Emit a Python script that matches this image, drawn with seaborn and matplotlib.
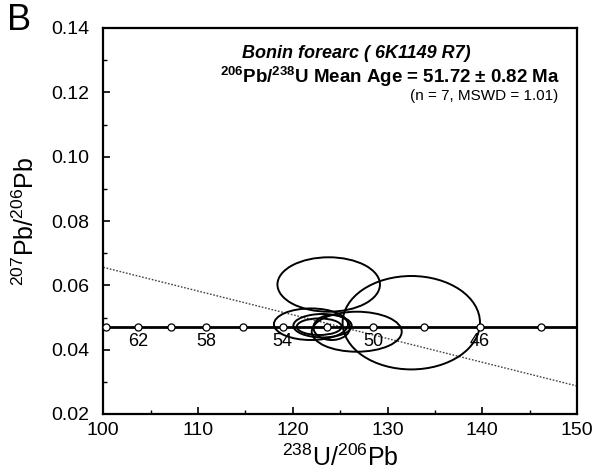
import numpy as np
import pandas as pd
import seaborn as sns
import matplotlib
matplotlib.use("Agg")
import matplotlib.pyplot as plt
from matplotlib.patches import Ellipse

# ---- data ----
conc_ages = [64, 62, 60, 58, 56, 54, 52, 50, 48, 46, 44]
conc_x = [100.28, 103.69, 107.11, 110.84, 114.78, 118.94, 123.58, 128.50, 133.85, 139.76, 146.17]
conc_y = 0.0472
labelled_ages = [62, 58, 54, 50, 46]

ell_x = [123.79, 132.51, 121.92, 126.75, 123.14, 122.79, 124.11]
ell_y = [0.06026, 0.04838, 0.04791, 0.04558, 0.04745, 0.04714, 0.04689]
ell_hw = [5.41, 7.25, 3.91, 4.75, 3.08, 2.37, 1.93]
ell_hh = [0.00846, 0.01452, 0.00491, 0.00622, 0.00364, 0.00258, 0.00389]

reg_x = [100, 150]
reg_y = [0.0656, 0.0287]

sns.set_style("ticks")
plt.rcParams['font.family'] = ['Liberation Sans', 'DejaVu Sans']
plt.rcParams['mathtext.fontset'] = 'custom'
plt.rcParams['mathtext.rm'] = 'Liberation Sans'
plt.rcParams['mathtext.it'] = 'Liberation Sans:italic'
plt.rcParams['mathtext.bf'] = 'Liberation Sans:bold'
for k in ['text.color', 'axes.labelcolor', 'xtick.color', 'ytick.color', 'axes.edgecolor']:
    plt.rcParams[k] = 'black'

fig = plt.figure(figsize=(6.01, 4.74), dpi=100)
ax = fig.add_axes([103.3 / 601, 1 - 414 / 474, (577 - 103.3) / 601, (414 - 28) / 474])

# regression (dotted) line
reg_df = pd.DataFrame({"x": reg_x, "y": reg_y})
sns.lineplot(data=reg_df, x="x", y="y", ax=ax, color="#444444", lw=1.0,
             linestyle=(0, (1.2, 1.2)), zorder=2)

# concordia line
cdf = pd.DataFrame({"x": [100, 150], "y": [conc_y, conc_y]})
sns.lineplot(data=cdf, x="x", y="y", ax=ax, color="black", lw=2.0, zorder=3)

# ellipses
for cx, cy, hw, hh in zip(ell_x, ell_y, ell_hw, ell_hh):
    ax.add_patch(Ellipse((cx, cy), 2 * hw, 2 * hh, fill=False, ec="black", lw=1.4, zorder=4))

# concordia age markers
mdf = pd.DataFrame({"x": conc_x, "y": [conc_y] * len(conc_x), "age": conc_ages})
sns.scatterplot(data=mdf, x="x", y="y", ax=ax, s=26, marker="o", facecolor="white",
                edgecolor="black", linewidth=0.9, zorder=5, clip_on=False)
for a, xv in zip(conc_ages, conc_x):
    if a in labelled_ages:
        ax.text(xv, conc_y - 0.0047, str(a), ha="center", va="center", fontsize=13, zorder=6)

ax.set_xlim(100, 150)
ax.set_ylim(0.02, 0.14)
ax.set_xticks([100, 110, 120, 130, 140, 150])
ax.set_xticks([105, 115, 125, 135, 145], minor=True)
ax.set_yticks([0.02, 0.04, 0.06, 0.08, 0.10, 0.12, 0.14])
ax.set_yticks([0.03, 0.05, 0.07, 0.09, 0.11, 0.13], minor=True)
ax.set_yticklabels(["0.02", "0.04", "0.06", "0.08", "0.10", "0.12", "0.14"])
ax.tick_params(axis="both", which="major", direction="in", length=5, width=1.2,
               labelsize=14)
ax.tick_params(axis="x", which="major", pad=6)
ax.tick_params(axis="y", which="major", pad=10)
ax.tick_params(axis="both", which="minor", direction="in", length=3, width=1.0)
for s in ax.spines.values():
    s.set_linewidth(1.6)
    s.set_color("black")
    s.set_visible(True)

ax.set_xlabel("$^{238}$U/$^{206}$Pb", fontsize=18, labelpad=4)
ax.set_ylabel("$^{207}$Pb/$^{206}$Pb", fontsize=18, labelpad=9)

fig.text(19 / 601, 1 - 21 / 474, "B", fontsize=26, ha="center", va="center")

fig.text(356 / 601, 1 - 54 / 474, "Bonin forearc ( 6K1149 R7)",
         ha="center", va="center", fontsize=13, fontweight="bold", style="italic")
fig.text(560 / 601, 1 - 77 / 474, r"$^{\mathbf{206}}$Pb/$^{\mathbf{238}}$U Mean Age = 51.72 ± 0.82 Ma",
         ha="right", va="center", fontsize=13.5, fontweight="bold")
fig.text(558 / 601, 1 - 96 / 474, "(n = 7, MSWD = 1.01)",
         ha="right", va="center", fontsize=11)

fig.savefig("out.png", dpi=100)
